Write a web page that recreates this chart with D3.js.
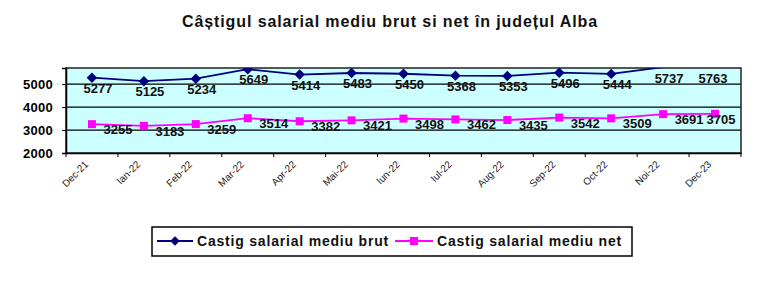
<!DOCTYPE html>
<html>
<head>
<meta charset="utf-8">
<script src="https://cdn.jsdelivr.net/npm/d3@7"></script>
<style>
  body { margin: 0; background: #fff; }
  text { font-family: "Liberation Sans", Arial, sans-serif; }
</style>
</head>
<body>
<svg id="chart" width="768" height="283"></svg>
<script>
const months = ["Dec-21", "Ian-22", "Feb-22", "Mar-22", "Apr-22", "Mai-22", "Iun-22",
  "Iul-22", "Aug-22", "Sep-22", "Oct-22", "Noi-22", "Dec-23"];
const brut = [5277, 5125, 5234, 5649, 5414, 5483, 5450, 5368, 5353, 5496, 5444, 5737, 5763];
const net = [3255, 3183, 3259, 3514, 3382, 3421, 3498, 3462, 3435, 3542, 3509, 3691, 3705];
const yTicks = [2000, 3000, 4000, 5000];

const svg = d3.select("#chart");
const margin = { left: 66, right: 27, top: 68, bottom: 130 };
const width = 768 - margin.left - margin.right;
const height = 283 - margin.top - margin.bottom;
const yMax = 5700;

svg.append("text")
  .attr("x", 390).attr("y", 27)
  .attr("text-anchor", "middle")
  .attr("font-size", 16).attr("font-weight", "bold")
  .attr("letter-spacing", 0.9)
  .attr("fill", "#111")
  .text("Câștigul salarial mediu brut si net în județul Alba");

const g = svg.append("g").attr("transform", `translate(${margin.left},${margin.top})`);

const x = d3.scaleBand().domain(months).range([0, width]);
const y = d3.scaleLinear().domain([2000, yMax]).range([height, 0]);

g.append("rect")
  .attr("width", width).attr("height", height)
  .attr("fill", "#ccffff");

g.append("defs").append("clipPath").attr("id", "plotClip")
  .append("rect").attr("width", width).attr("height", height);

// gridlines
g.selectAll(".grid").data(yTicks.filter(d => d > 2000)).join("line")
  .attr("x1", 0).attr("x2", width)
  .attr("y1", d => y(d)).attr("y2", d => y(d))
  .attr("stroke", "#000").attr("stroke-width", 1.2);

g.append("rect")
  .attr("width", width).attr("height", height)
  .attr("fill", "none").attr("stroke", "#222").attr("stroke-width", 1.5);

// y axis
const yAxis = g.append("g").call(d3.axisLeft(y).tickValues(yTicks).tickSize(4).tickPadding(9).tickFormat(d3.format("d")));
yAxis.select(".domain").attr("stroke", "#000").attr("stroke-width", 1.5);
yAxis.selectAll(".tick line").attr("stroke", "#000");
yAxis.selectAll("text")
  .attr("font-size", 13).attr("font-weight", "bold").attr("fill", "#000")
  .attr("letter-spacing", 0.3)
  .attr("font-family", "Liberation Sans, Arial, sans-serif");

// x axis
const xAxis = g.append("g").attr("transform", `translate(0,${height})`)
  .call(d3.axisBottom(x).tickSize(0).tickFormat(""));
xAxis.select(".domain").attr("stroke", "#000").attr("stroke-width", 1.5);
g.selectAll(".xtick").data(d3.range(months.length + 1)).join("line")
  .attr("x1", i => i * x.step()).attr("x2", i => i * x.step())
  .attr("y1", height).attr("y2", height + 4)
  .attr("stroke", "#000");
g.selectAll(".xlab").data(months).join("text")
  .attr("transform", d => `translate(${x(d) + x.bandwidth() / 2 - 3},${height + 12}) rotate(-45)`)
  .attr("text-anchor", "end")
  .attr("font-size", 10).attr("fill", "#222")
  .text(d => d);

const cx = (d, i) => x(months[i]) + x.bandwidth() / 2;
const line = d3.line().x((d, i) => cx(d, i)).y(d => y(d));

const plot = g.append("g").attr("clip-path", "url(#plotClip)");
plot.append("path").datum(brut).attr("d", line)
  .attr("fill", "none").attr("stroke", "#000080").attr("stroke-width", 1.8);
plot.append("path").datum(net).attr("d", line)
  .attr("fill", "none").attr("stroke", "#ff00ff").attr("stroke-width", 1.8);

plot.selectAll(".diam").data(brut).join("path")
  .attr("transform", (d, i) => `translate(${cx(d, i)},${y(d)})`)
  .attr("d", d3.symbol(d3.symbolDiamond2, 70)())
  .attr("fill", "#000080")
  .attr("opacity", d => d > yMax ? 0 : 1);
plot.selectAll(".sq").data(net).join("rect")
  .attr("x", (d, i) => cx(d, i) - 4).attr("y", d => y(d) - 4)
  .attr("width", 8).attr("height", 8)
  .attr("fill", "#ff00ff");

// data labels
g.selectAll(".lb").data(brut).join("text")
  .attr("x", (d, i) => Math.min(cx(d, i) + 6, width - 28))
  .attr("y", d => Math.max(y(d), 0) + 15)
  .attr("text-anchor", "middle")
  .attr("font-size", 13).attr("font-weight", "bold").attr("fill", "#111")
  .text(d => d);
g.selectAll(".ln").data(net).join("text")
  .attr("x", (d, i) => Math.min(cx(d, i) + 26, width - 20))
  .attr("y", d => y(d) + 10)
  .attr("text-anchor", "middle")
  .attr("font-size", 13).attr("font-weight", "bold").attr("fill", "#111")
  .text(d => d);

// legend
const leg = svg.append("g");
leg.append("rect").attr("x", 152).attr("y", 227).attr("width", 480).attr("height", 29)
  .attr("fill", "#fff").attr("stroke", "#000").attr("stroke-width", 1.5);
leg.append("line").attr("x1", 157).attr("x2", 193).attr("y1", 241).attr("y2", 241)
  .attr("stroke", "#000080").attr("stroke-width", 1.8);
leg.append("path").attr("transform", "translate(175,241)")
  .attr("d", d3.symbol(d3.symbolDiamond2, 60)()).attr("fill", "#000080");
leg.append("text").attr("x", 197).attr("y", 246)
  .attr("font-size", 14).attr("font-weight", "bold").attr("fill", "#111")
  .attr("letter-spacing", 0.8)
  .text("Castig salarial mediu brut");
leg.append("line").attr("x1", 395).attr("x2", 433).attr("y1", 241).attr("y2", 241)
  .attr("stroke", "#ff00ff").attr("stroke-width", 1.8);
leg.append("rect").attr("x", 410).attr("y", 237).attr("width", 8).attr("height", 8)
  .attr("fill", "#ff00ff");
leg.append("text").attr("x", 437).attr("y", 246)
  .attr("font-size", 14).attr("font-weight", "bold").attr("fill", "#111")
  .attr("letter-spacing", 0.8)
  .text("Castig salarial mediu net");
</script>
</body>
</html>
